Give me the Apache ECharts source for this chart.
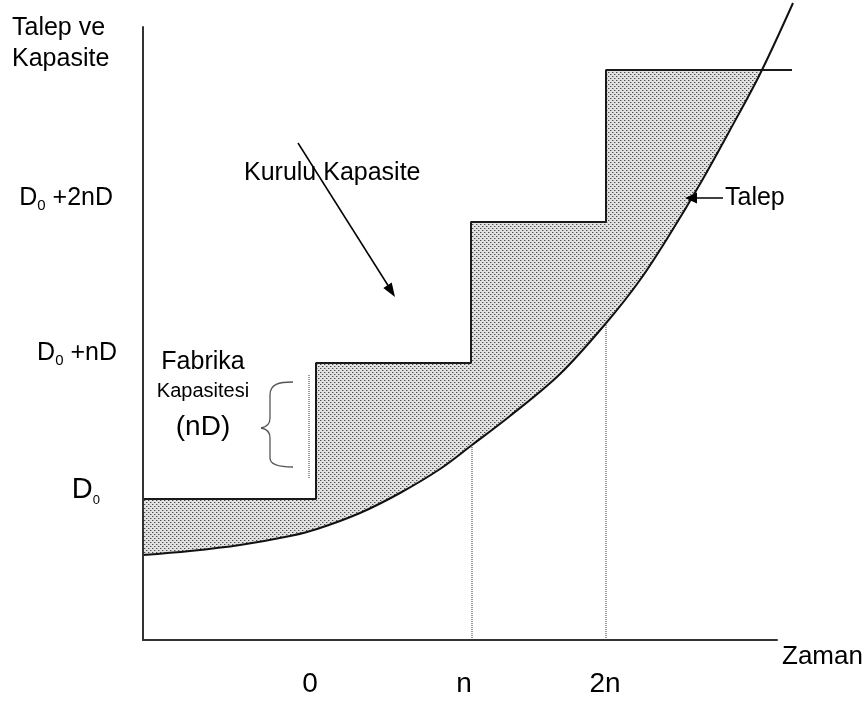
<!DOCTYPE html>
<html>
<head>
<meta charset="utf-8">
<script src="https://cdn.jsdelivr.net/npm/echarts@6/dist/echarts.min.js"></script>
<style>html,body{margin:0;padding:0;background:#fff}#c{width:868px;height:702px}</style>
</head>
<body>
<div id="c"></div>
<script>
// ---- data (units: time along x, demand/capacity along y) ----
const capacityX = [0, 173, 173, 328, 328, 463, 463, 649];
const capacityY = [141, 141, 277, 277, 418, 418, 570, 570];
const demandX = [0, 47, 97, 147, 174, 217, 257, 297, 329, 367, 417, 464, 497, 527, 557, 587, 617, 650];
const demandY = [85, 89, 95, 104, 111, 127, 147, 171, 195, 224, 266, 318, 360, 406, 456, 510, 566, 637];
const xTickValues = [167, 321, 462];
const xTickLabels = ['0', 'n', '2n'];
const yTickValues = [150, 287, 442];
const yTickLabels = ['D0', 'D0 +nD', 'D0 +2nD'];
const dropX = [166, 329, 463];
const dropFrom = [162, 0, 0];
const dropTo = [265, 195, 318];

const capacityData = capacityX.map((x, i) => [x, capacityY[i]]);
const demandData = demandX.map((x, i) => [x, demandY[i]]);

// dotted pattern
const tile = document.createElement('canvas');
tile.width = 4; tile.height = 4;
const tc = tile.getContext('2d');
tc.fillStyle = '#e2e2e2'; tc.fillRect(0, 0, 4, 4);
tc.fillStyle = '#4a4a4a'; tc.fillRect(0, 0, 1, 1); tc.fillRect(2, 2, 1, 1);
tc.fillStyle = '#ababab'; tc.fillRect(1, 0, 1, 1); tc.fillRect(3, 2, 1, 1);

const chart = echarts.init(document.getElementById('c'), null, {renderer: 'canvas'});
const FONT = 'Liberation Sans, Arial, sans-serif';
const SM = 0.35;

const series = [
  {type: 'line', data: capacityData, symbol: 'none', z: 2,
   lineStyle: {width: 0}, areaStyle: {color: {image: tile, repeat: 'repeat'}, opacity: 1}, silent: true},
  {type: 'line', data: demandData, symbol: 'none', z: 3, smooth: SM,
   lineStyle: {width: 0}, areaStyle: {color: '#ffffff', opacity: 1}, silent: true},
  {type: 'line', data: capacityData, symbol: 'none', z: 4,
   lineStyle: {width: 2, color: '#1a1a1a'}},
  {type: 'line', data: demandData, symbol: 'none', z: 4, smooth: SM,
   lineStyle: {width: 2, color: '#111'}}
];
dropX.forEach((x, i) => {
  series.push({type: 'line', data: [[x, dropFrom[i]], [x, dropTo[i]]], symbol: 'none', z: 5,
    lineStyle: {width: 1, type: [1, 1], color: '#333'}});
});

const subRich = {
  m: {fontSize: 25, fontFamily: FONT, color: '#000', lineHeight: 30},
  s: {fontSize: 15, fontFamily: FONT, color: '#000', verticalAlign: 'bottom', lineHeight: 30},
  mb: {fontSize: 29, fontFamily: FONT, color: '#000', lineHeight: 34},
  sb: {fontSize: 13, fontFamily: FONT, color: '#000', verticalAlign: 'bottom', lineHeight: 34, padding: [0, 17, 0, 0]},
  e: {fontSize: 25, fontFamily: FONT, color: '#000', lineHeight: 30, padding: [0, 4, 0, 0]}
};

const braceStyle = {stroke: '#555', lineWidth: 1.3, fill: null};
chart.setOption({
  animation: false,
  backgroundColor: '#fff',
  title: {text: 'Talep ve\nKapasite', left: 12, top: 13, padding: 0,
    textStyle: {fontSize: 25, fontWeight: 'normal', fontFamily: FONT, color: '#000', lineHeight: 31}},
  grid: [
    {left: 143, right: 75, top: 0, bottom: 62},   // plotting area (marks may run past the drawn axes)
    {left: 143, right: 91, top: 27, bottom: 62}   // drawn axes
  ],
  xAxis: [
    {type: 'value', gridIndex: 0, min: 0, max: 650, show: false},
    {type: 'value', gridIndex: 1, min: 0, max: 634, z: 10,
      axisLine: {show: true, lineStyle: {color: '#333', width: 2}},
      axisTick: {show: false}, splitLine: {show: false},
      axisLabel: {customValues: xTickValues, margin: 30, fontSize: 28, fontFamily: FONT, color: '#000',
        formatter: v => xTickLabels[xTickValues.indexOf(v)]},
      name: 'Zaman', nameLocation: 'end', nameGap: 5,
      nameTextStyle: {fontSize: 26, fontFamily: FONT, color: '#000', verticalAlign: 'top', padding: [4, 0, 0, 0]}}
  ],
  yAxis: [
    {type: 'value', gridIndex: 0, min: 0, max: 640, show: false},
    {type: 'value', gridIndex: 1, min: 0, max: 613, z: 10,
      axisLine: {show: true, lineStyle: {color: '#333', width: 2}},
      axisTick: {show: false}, splitLine: {show: false},
      axisLabel: {customValues: yTickValues, margin: 26, align: 'right', rich: subRich,
        formatter: v => {
          const t = yTickLabels[yTickValues.indexOf(v)];
          const rest = t.slice(2);
          if (!rest) return '{mb|D}{sb|0}';
          const endStyle = rest === ' +2nD' ? 'e' : 'm';
          return '{m|D}{s|0}{' + endStyle + '|' + rest + '}';
        }}}
  ],
  series: series,
  graphic: [
    {type: 'text', z: 100, style: {text: 'Kurulu Kapasite', x: 244, y: 173, fontSize: 25, fontFamily: FONT, fill: '#000', verticalAlign: 'middle'}},
    {type: 'line', z: 100, shape: {x1: 298, y1: 143, x2: 389, y2: 287}, style: {stroke: '#000', lineWidth: 1.5}},
    {type: 'polygon', z: 100, shape: {points: [[395, 297], [391.7, 282.5], [383.3, 287.9]]}, style: {fill: '#000'}},
    {type: 'text', z: 100, style: {text: 'Talep', x: 725, y: 198, fontSize: 25, fontFamily: FONT, fill: '#000', verticalAlign: 'middle'}},
    {type: 'line', z: 100, shape: {x1: 723, y1: 198, x2: 694, y2: 198}, style: {stroke: '#000', lineWidth: 1.5}},
    {type: 'polygon', z: 100, shape: {points: [[685, 198], [697, 192.5], [697, 203.5]]}, style: {fill: '#000'}},
    {type: 'text', z: 100, style: {text: 'Fabrika', x: 203, y: 362, fontSize: 25, fontFamily: FONT, fill: '#000', align: 'center', verticalAlign: 'middle'}},
    {type: 'text', z: 100, style: {text: 'Kapasitesi', x: 203, y: 391, fontSize: 20, fontFamily: FONT, fill: '#000', align: 'center', verticalAlign: 'middle'}},
    {type: 'text', z: 100, style: {text: '(nD)', x: 203, y: 427, fontSize: 28, fontFamily: FONT, fill: '#000', align: 'center', verticalAlign: 'middle'}},
    {type: 'bezierCurve', z: 100, shape: {x1: 293, y1: 382, cpx1: 279, cpy1: 382, cpx2: 270, cpy2: 384, x2: 270, y2: 395}, style: braceStyle},
    {type: 'line', z: 100, shape: {x1: 270, y1: 395, x2: 270, y2: 418}, style: braceStyle},
    {type: 'bezierCurve', z: 100, shape: {x1: 270, y1: 418, cpx1: 270, cpy1: 424, cpx2: 267, cpy2: 427, x2: 261, y2: 428}, style: braceStyle},
    {type: 'bezierCurve', z: 100, shape: {x1: 261, y1: 428, cpx1: 267, cpy1: 429, cpx2: 270, cpy2: 432, x2: 270, y2: 438}, style: braceStyle},
    {type: 'line', z: 100, shape: {x1: 270, y1: 438, x2: 270, y2: 458}, style: braceStyle},
    {type: 'bezierCurve', z: 100, shape: {x1: 270, y1: 458, cpx1: 270, cpy1: 465, cpx2: 279, cpy2: 467, x2: 293, y2: 467}, style: braceStyle}
  ]
});
</script>
</body>
</html>
